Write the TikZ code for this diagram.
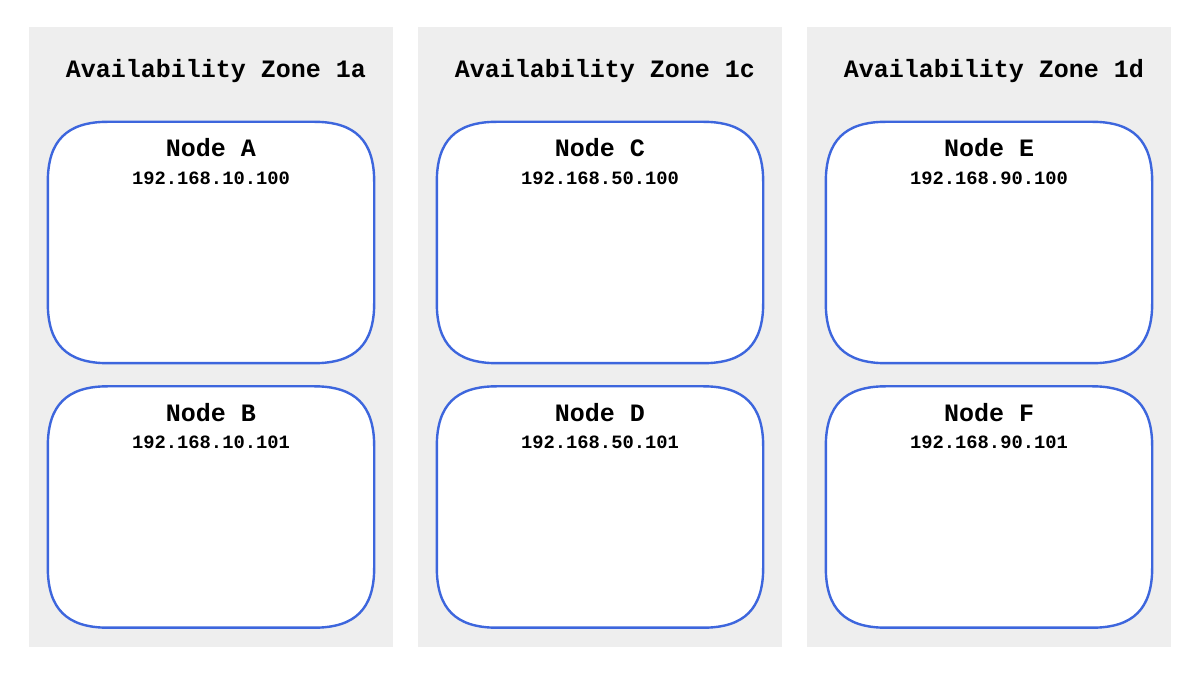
\documentclass[tikz,border=0pt]{standalone}
\usepackage{fontspec}
\setmonofont{Liberation Mono}
\usetikzlibrary{calc}
\definecolor{panelgray}{HTML}{EEEEEE}
\definecolor{boxblue}{HTML}{3D66DD}
\tikzset{
  x=1pt, y=1pt,
  zone/.style={fill=panelgray, draw=none, minimum width=364pt, minimum height=620pt, inner sep=0pt},
  hostbox/.style={draw=none, fill=none, minimum width=326pt, minimum height=241pt, inner sep=0pt},
  ztitle/.style={font=\ttfamily\bfseries\fontsize{25}{28}\selectfont, inner sep=0pt, anchor=center},
  ntitle/.style={font=\ttfamily\bfseries\fontsize{25}{28}\selectfont, inner sep=0pt, anchor=center},
  nip/.style={font=\ttfamily\bfseries\fontsize{18.8}{22}\selectfont, inner sep=0pt, anchor=center},
  boxline/.style={draw=boxblue, line width=2.4pt, fill=white}
}
\newcommand\sqbox[1]{%
  \path[boxline]
    ([yshift=-60pt]#1.north west) .. controls ([yshift=-19pt]#1.north west) and ([xshift=19pt]#1.north west) .. ([xshift=60pt]#1.north west)
    -- ([xshift=-60pt]#1.north east) .. controls ([xshift=-19pt]#1.north east) and ([yshift=-19pt]#1.north east) .. ([yshift=-60pt]#1.north east)
    -- ([yshift=60pt]#1.south east) .. controls ([yshift=19pt]#1.south east) and ([xshift=-19pt]#1.south east) .. ([xshift=-60pt]#1.south east)
    -- ([xshift=60pt]#1.south west) .. controls ([xshift=19pt]#1.south west) and ([yshift=19pt]#1.south west) .. ([yshift=60pt]#1.south west)
    -- cycle;}
\begin{document}
\begin{tikzpicture}
\useasboundingbox (0,0) rectangle (1200,675);
\fill[white] (0,0) rectangle (1200,675);
% zones
\node[zone] (z1) at (211,338) {};
\node[zone] (z2) at (600,338) {};
\node[zone] (z3) at (989,338) {};
\node[ztitle] (t1) at (216,604) {Availability Zone 1a};
\node[ztitle] (t2) at (605,604) {Availability Zone 1c};
\node[ztitle] (t3) at (994,604) {Availability Zone 1d};
% host boxes
\node[hostbox] (ba) at (211,432.5) {};
\node[hostbox] (bb) at (211,168) {};
\node[hostbox] (bc) at (600,432.5) {};
\node[hostbox] (bd) at (600,168) {};
\node[hostbox] (be) at (989,432.5) {};
\node[hostbox] (bf) at (989,168) {};
\sqbox{ba}\sqbox{bb}\sqbox{bc}\sqbox{bd}\sqbox{be}\sqbox{bf}
% labels
\node[ntitle] (na) at (211,527.5) {Node A};
\node[nip] (ia) at (211,497) {192.168.10.100};
\node[ntitle] (nb) at (211,262.5) {Node B};
\node[nip] (ib) at (211,233) {192.168.10.101};
\node[ntitle] (nc) at (600,527.5) {Node C};
\node[nip] (ic) at (600,497) {192.168.50.100};
\node[ntitle] (nd) at (600,262.5) {Node D};
\node[nip] (id) at (600,233) {192.168.50.101};
\node[ntitle] (ne) at (989,527.5) {Node E};
\node[nip] (ie) at (989,497) {192.168.90.100};
\node[ntitle] (nf) at (989,262.5) {Node F};
\node[nip] (if) at (989,233) {192.168.90.101};
\end{tikzpicture}
\end{document}
